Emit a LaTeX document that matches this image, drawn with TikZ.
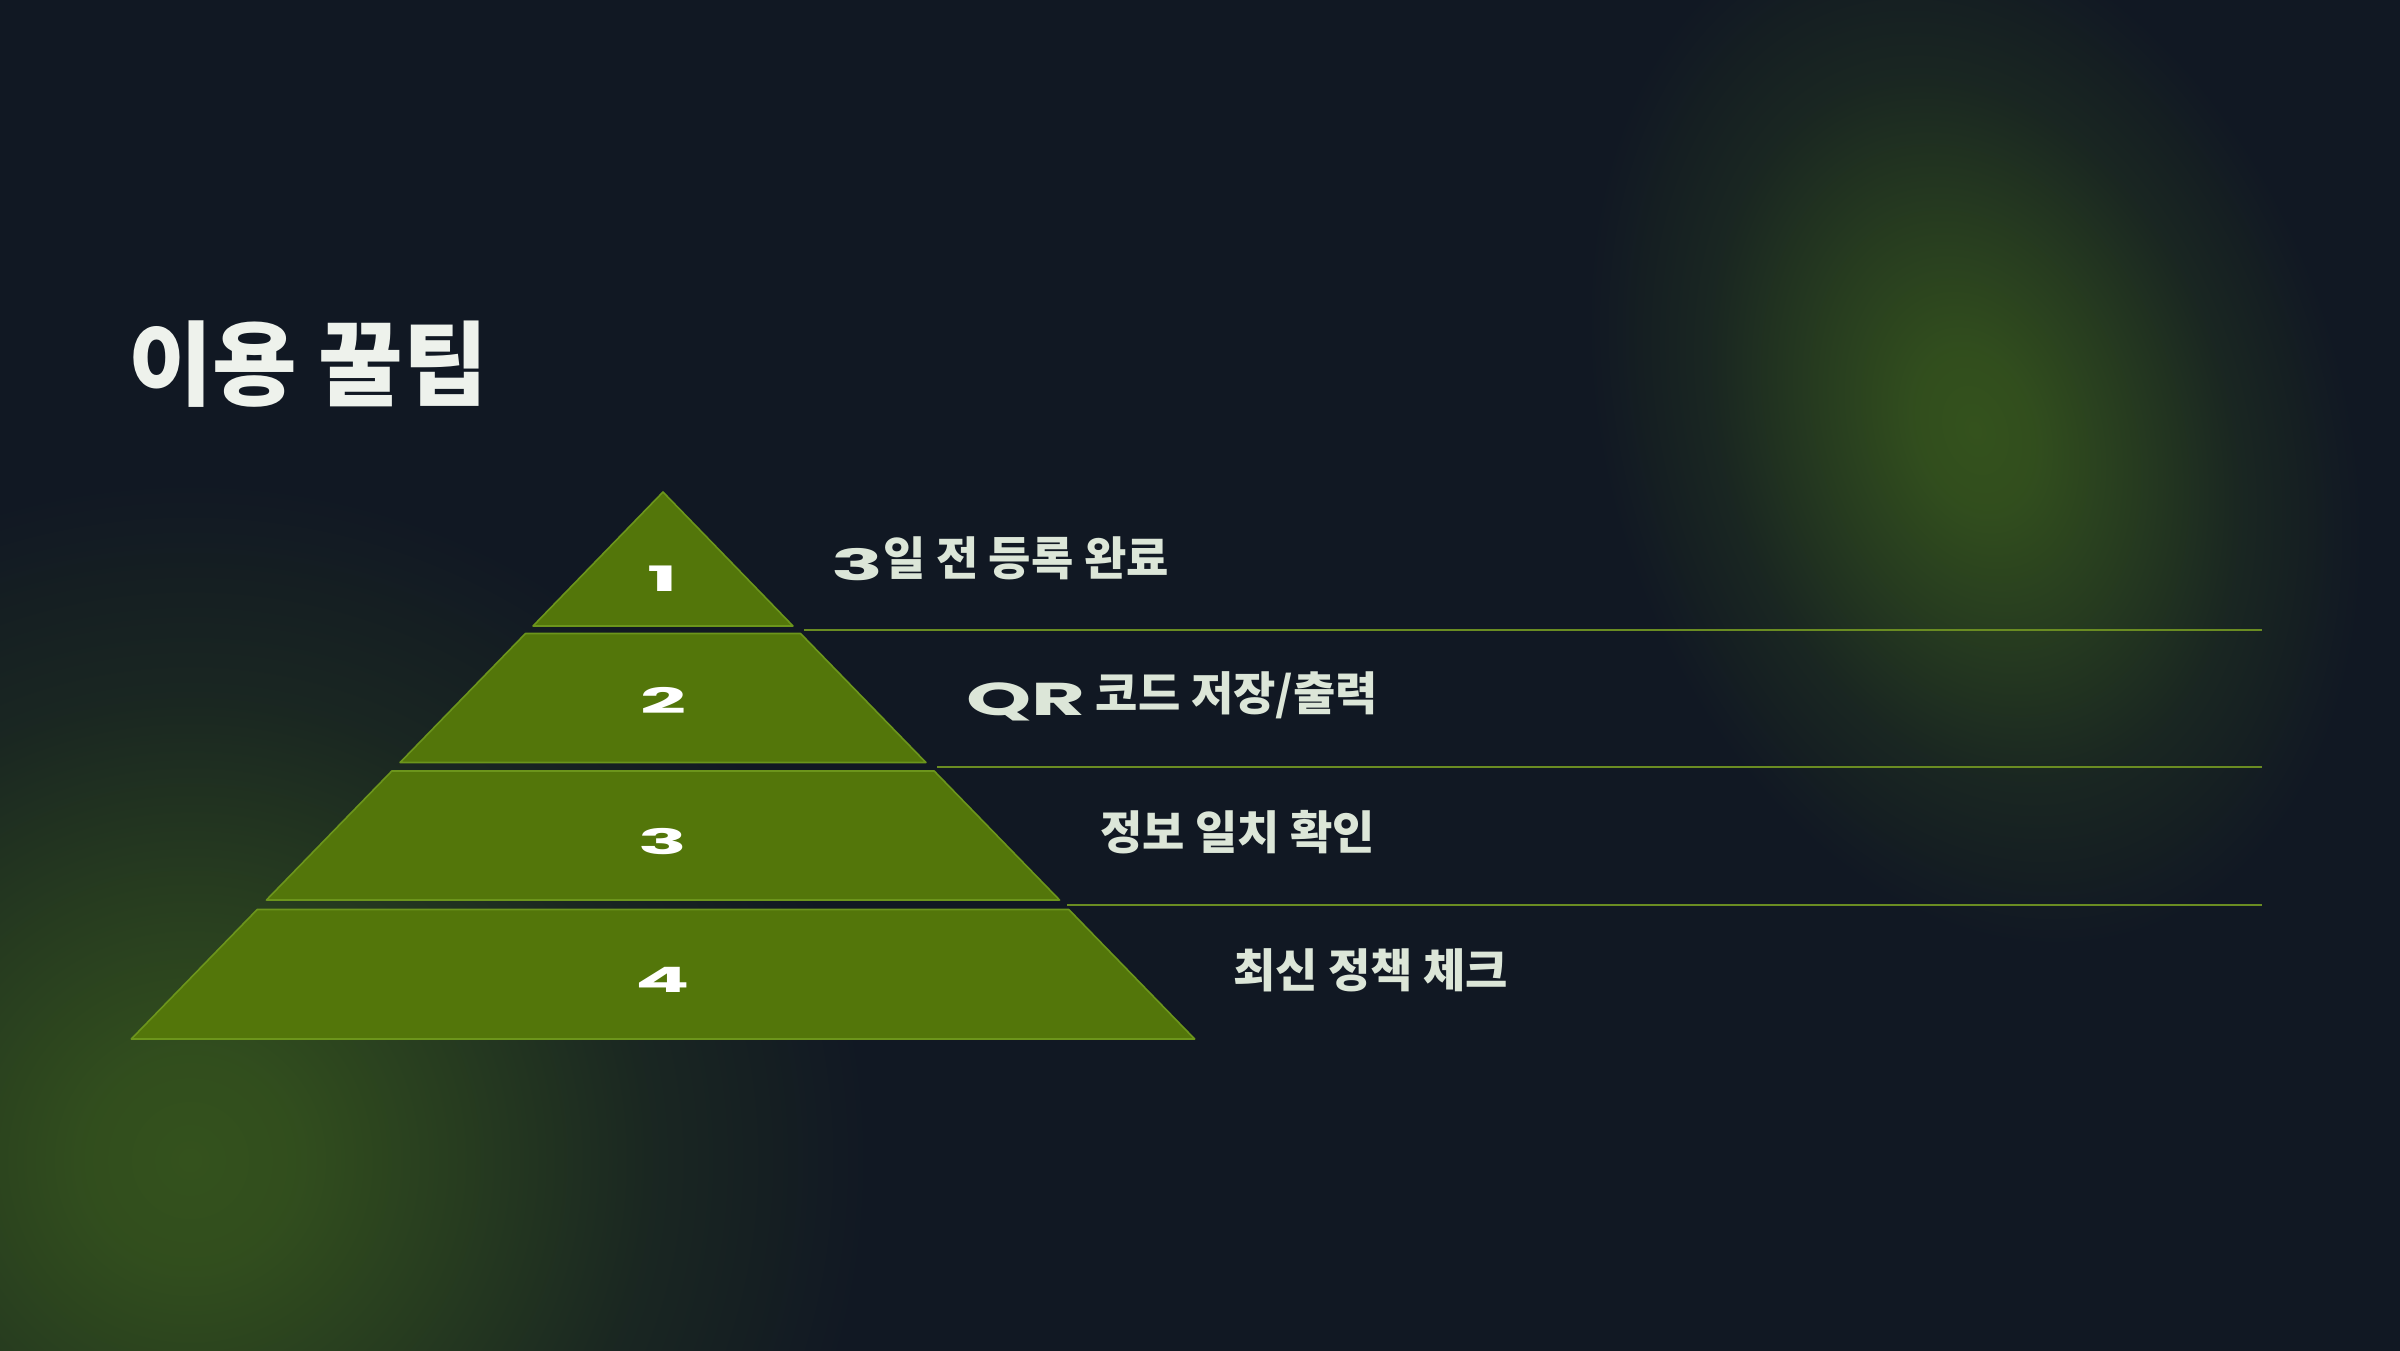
\documentclass[tikz,border=0pt]{standalone}
\usepackage{fontspec}
\usepackage{graphicx}
\setmainfont{Noto Sans CJK KR}
\newfontfamily\widefont{Poppins}
\definecolor{bg}{HTML}{111823}
\definecolor{glowc}{HTML}{34521D}
\definecolor{tierfill}{HTML}{53760A}
\definecolor{tieredge}{HTML}{6C951C}
\definecolor{rulec}{HTML}{6A8C22}
\definecolor{lbltext}{HTML}{DCE6D8}
\definecolor{titletext}{HTML}{EEF2EC}
\pgfdeclareradialshading{glowshade}{\pgfpoint{0bp}{0bp}}{color(0bp)=(glowc); color(4bp)=(glowc!92!bg); color(10bp)=(glowc!62!bg); color(17bp)=(glowc!25!bg); color(25bp)=(bg); color(50bp)=(bg)}
\newcommand\widetxt[3]{\scalebox{#1}[1]{\fontsize{#2}{#2}\widefont\bfseries #3}}
\tikzset{
  tier/.style={fill=tierfill, draw=tieredge, line width=1.6pt, line join=round},
  rulerline/.style={draw=rulec, line width=2pt},
  lbl/.style={anchor=west, inner sep=0pt, text=lbltext, font=\bfseries\fontsize{46}{50}\selectfont},
  num/.style={inner sep=0pt, text=white},
  ttl/.style={anchor=west, inner sep=0pt, text=titletext, font=\bfseries\fontsize{92}{100}\selectfont}
}
\begin{document}
\begin{tikzpicture}[x=1pt,y=-1pt]
\useasboundingbox (0,0) rectangle (2400,1350);
\fill[bg] (-20,-20) rectangle (2420,1370);
% glows
\shade[shading=glowshade] (190,1160) circle[radius=680];
\begin{scope}[transform canvas={shift={(1975,430)}, rotate=18}]
  \shade[shading=glowshade] (0,0) ellipse[x radius=370, y radius=530];
\end{scope}
% title
\node[ttl] (title) at (128,364) {이용 꿀팁};
% pyramid tiers
\def\cx{663}
\draw[tier] (\cx,492) -- (\cx+130,626) -- (\cx-130,626) -- cycle;
\foreach \t/\b in {633.5/762.5, 771/900, 909.5/1039} {
  \pgfmathsetmacro\ht{0.972*(\t-492)}
  \pgfmathsetmacro\hb{0.972*(\b-492)}
  \draw[tier] (\cx-\ht,\t) -- (\cx+\ht,\t) -- (\cx+\hb,\b) -- (\cx-\hb,\b) -- cycle;
}
% numbers
\node[num] (n1) at (\cx,579) {\widetxt{2.3}{35}{1}};
\node[num] (n2) at (\cx,700) {\widetxt{2.3}{35}{2}};
\node[num] (n3) at (\cx,842) {\widetxt{2.3}{35}{3}};
\node[num] (n4) at (\cx,980) {\widetxt{2.3}{35}{4}};
% separator rules
\coordinate (r1a) at (804,629.5);  \coordinate (r1b) at (2262,629.5);
\coordinate (r2a) at (937,767);    \coordinate (r2b) at (2262,767);
\coordinate (r3a) at (1067,904.5); \coordinate (r3b) at (2262,904.5);
\draw[rulerline] (r1a) -- (r1b);
\draw[rulerline] (r2a) -- (r2b);
\draw[rulerline] (r3a) -- (r3b);
% labels
\node[lbl] (l1) at (831,559) {\raisebox{-5pt}{\widetxt{2}{43}{3}}일 전 등록 완료};
\node[lbl] (l2) at (966,696) {\raisebox{-5pt}{\widetxt{1.8}{46}{QR}} 코드 저장/출력};
\node[lbl] (l3) at (1100,832) {정보 일치 확인};
\node[lbl] (l4) at (1233,970) {최신 정책 체크};
\end{tikzpicture}
\end{document}
